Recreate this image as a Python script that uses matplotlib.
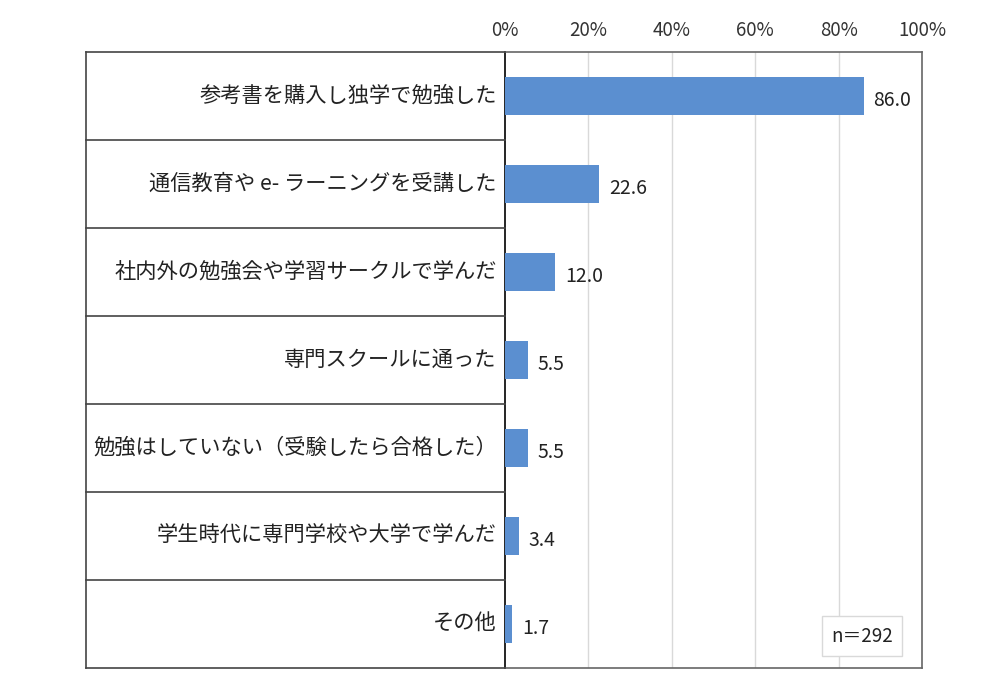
import matplotlib
matplotlib.use("Agg")
import matplotlib.pyplot as plt

plt.rcParams['font.family'] = ['Noto Sans CJK JP', 'DejaVu Sans']

categories = [
    "参考書を購入し独学で勉強した",
    "通信教育や e- ラーニングを受講した",
    "社内外の勉強会や学習サークルで学んだ",
    "専門スクールに通った",
    "勉強はしていない（受験したら合格した）",
    "学生時代に専門学校や大学で学んだ",
    "その他",
]
values = [86.0, 22.6, 12.0, 5.5, 5.5, 3.4, 1.7]
xticks = [0, 20, 40, 60, 80, 100]
xtick_labels = ["0%", "20%", "40%", "60%", "80%", "100%"]
note = "n＝292"

fig = plt.figure(figsize=(10, 6.95), dpi=100)
L, R, T, B = 505, 922, 52, 668
ax = fig.add_axes([L / 1000, 1 - B / 695, (R - L) / 1000, (B - T) / 695])

n = len(categories)
ypos = list(range(n))
ax.barh(ypos, values, height=0.43, color='#5B8FD0', zorder=3)
ax.set_xlim(0, 100)
ax.set_ylim(n - 0.5, -0.5)

for y, v in zip(ypos, values):
    ax.annotate(f"{v:.1f}", (v, y), xytext=(7, -3), textcoords='offset points',
                ha='left', va='center', fontsize=14, color='#222222', zorder=4)

ax.xaxis.tick_top()
ax.set_xticks(xticks)
ax.set_xticklabels(xtick_labels, fontsize=13.5, color='#333333')
ax.tick_params(axis='x', length=0, pad=8)
ax.set_yticks([])
for x in xticks[1:-1]:
    ax.axvline(x, color='#D9D9D9', lw=1, zorder=1)

for s in ['top', 'right', 'bottom']:
    ax.spines[s].set_color('#666666')
    ax.spines[s].set_linewidth(1.2)
ax.spines['left'].set_color('black')
ax.spines['left'].set_linewidth(1.2)

# table on the left
left_ax = (86 - L) / (R - L)
for i in range(n + 1):
    yy = i - 0.5
    ax.plot([left_ax, 0], [yy, yy], transform=ax.get_yaxis_transform(),
            color='#444444', lw=1.2, clip_on=False, zorder=5)
ax.plot([left_ax, left_ax], [0, 1], transform=ax.transAxes, color='#444444',
        lw=1.2, clip_on=False, zorder=5)

for y, c in zip(ypos, categories):
    ax.annotate(c, (0, y), xytext=(-6, 0), textcoords='offset points',
                ha='right', va='center', fontsize=15.3, color='#222222',
                annotation_clip=False)

ax.text(862 / 1000, 1 - 636 / 695, note, transform=fig.transFigure, ha='center',
        va='center', fontsize=13.5, color='#222222', zorder=6,
        bbox=dict(boxstyle='square,pad=0.5', fc='white', ec='#D9D9D9', lw=1))

fig.savefig("out.png", dpi=100)
